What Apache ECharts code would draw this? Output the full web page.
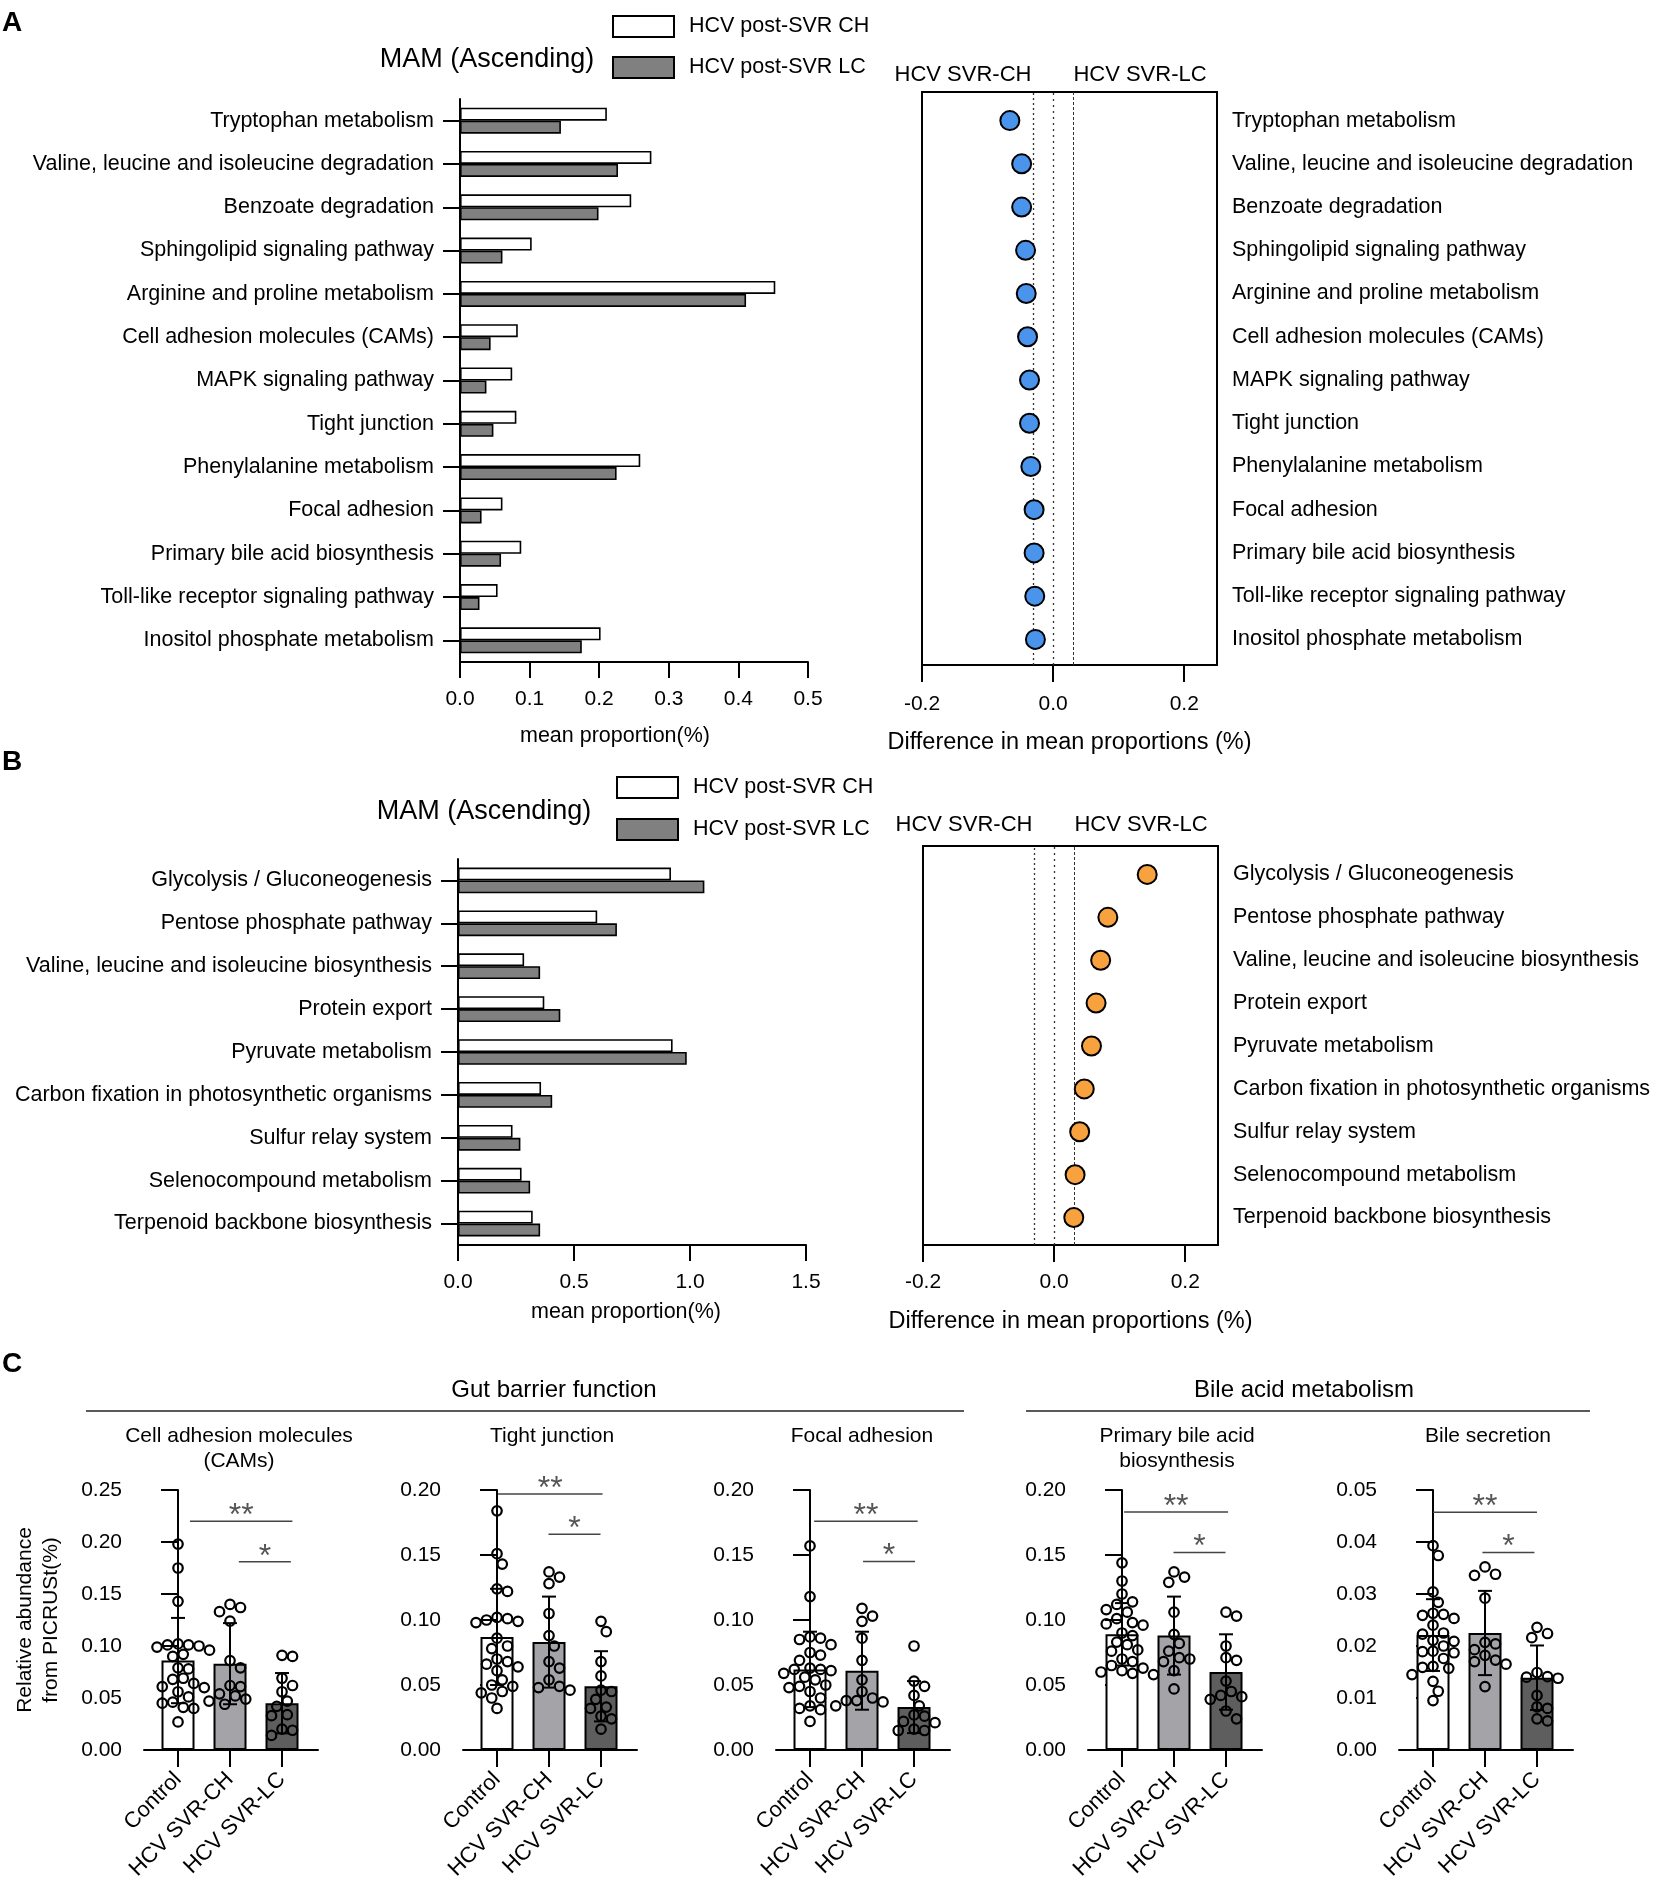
<!DOCTYPE html>
<html><head><meta charset="utf-8">
<script src="https://cdn.jsdelivr.net/npm/echarts@6/dist/echarts.min.js"></script>
<style>html,body{margin:0;padding:0;background:#fff}#c{width:1658px;height:1891px}</style>
</head><body><div id="c"></div>
<script>
const FONT = "'Liberation Sans', Arial, Helvetica, sans-serif";

// ---------- Panel A data ----------
const aPathways = ['Tryptophan metabolism','Valine, leucine and isoleucine degradation','Benzoate degradation','Sphingolipid signaling pathway','Arginine and proline metabolism','Cell adhesion molecules (CAMs)','MAPK signaling pathway','Tight junction','Phenylalanine metabolism','Focal adhesion','Primary bile acid biosynthesis','Toll-like receptor signaling pathway','Inositol phosphate metabolism'];
const aCH = [0.211,0.275,0.246,0.103,0.453,0.083,0.075,0.081,0.259,0.061,0.088,0.054,0.202];
const aLC = [0.145,0.227,0.199,0.061,0.411,0.044,0.038,0.048,0.225,0.031,0.059,0.028,0.175];
const aDiff = [-0.066,-0.048,-0.048,-0.042,-0.041,-0.039,-0.036,-0.036,-0.034,-0.029,-0.029,-0.028,-0.027];

// ---------- Panel B data ----------
const bPathways = ['Glycolysis / Gluconeogenesis','Pentose phosphate pathway','Valine, leucine and isoleucine biosynthesis','Protein export','Pyruvate metabolism','Carbon fixation in photosynthetic organisms','Sulfur relay system','Selenocompound metabolism','Terpenoid backbone biosynthesis'];
const bCH = [0.918,0.600,0.285,0.372,0.925,0.358,0.235,0.274,0.322];
const bLC = [1.062,0.685,0.354,0.441,0.986,0.406,0.269,0.311,0.354];
const bDiff = [0.142,0.082,0.071,0.064,0.057,0.046,0.039,0.032,0.030];

const legendNames = ['HCV post-SVR CH','HCV post-SVR LC'];
const dotHeaders = ['HCV SVR-CH','HCV SVR-LC'];

// ---------- Panel C data ----------
const cGroups = ['Control','HCV SVR-CH','HCV SVR-LC'];
const cTitles = ['Cell adhesion molecules\n(CAMs)','Tight junction','Focal adhesion','Primary bile acid\nbiosynthesis','Bile secretion'];
const cYMax = [0.25,0.20,0.20,0.20,0.05];
const cYInterval = [0.05,0.05,0.05,0.05,0.01];

const camsControl = [0.198,0.175,0.143,0.102,0.101,0.101,0.100,0.099,0.096,0.092,0.090,0.079,0.078,0.069,0.068,0.064,0.061,0.060,0.056,0.051,0.046,0.045,0.041,0.040,0.027];
const camsCH = [0.140,0.137,0.133,0.124,0.086,0.079,0.062,0.061,0.054,0.052,0.049,0.047,0.044];
const camsLC = [0.091,0.090,0.069,0.062,0.056,0.047,0.042,0.034,0.033,0.020,0.019,0.014];
const camsMean = [0.086,0.083,0.045];
const camsSD = [0.041,0.039,0.029];

const tightControl = [0.184,0.151,0.143,0.124,0.122,0.102,0.101,0.100,0.099,0.098,0.086,0.080,0.078,0.070,0.068,0.066,0.064,0.061,0.054,0.050,0.049,0.045,0.044,0.040,0.032];
const tightCH = [0.137,0.133,0.128,0.105,0.088,0.080,0.068,0.063,0.054,0.049,0.048,0.046];
const tightLC = [0.099,0.091,0.068,0.057,0.046,0.045,0.039,0.033,0.032,0.026,0.024,0.016];
const tightMean = [0.087,0.083,0.049];
const tightSD = [0.037,0.035,0.027];

const focalControl = [0.157,0.118,0.087,0.086,0.085,0.081,0.075,0.073,0.069,0.063,0.062,0.062,0.061,0.059,0.056,0.054,0.050,0.049,0.048,0.045,0.040,0.034,0.032,0.031,0.022];
const focalCH = [0.109,0.103,0.099,0.086,0.069,0.054,0.045,0.040,0.038,0.038,0.037,0.034];
const focalLC = [0.080,0.053,0.049,0.042,0.034,0.027,0.026,0.022,0.021,0.016,0.015,0.015];
const focalMean = [0.062,0.061,0.033];
const focalSD = [0.029,0.030,0.020];

const pbaControl = [0.144,0.130,0.120,0.114,0.112,0.108,0.106,0.101,0.098,0.097,0.096,0.090,0.088,0.083,0.081,0.077,0.076,0.070,0.068,0.065,0.063,0.061,0.060,0.059,0.058];
const pbaCH = [0.137,0.133,0.129,0.106,0.089,0.082,0.076,0.071,0.070,0.068,0.061,0.047];
const pbaLC = [0.106,0.103,0.080,0.071,0.069,0.053,0.045,0.042,0.041,0.039,0.030,0.024];
const pbaMean = [0.089,0.088,0.060];
const pbaSD = [0.024,0.030,0.029];

const bileControl = [0.0393,0.0374,0.0304,0.0284,0.0263,0.0261,0.0259,0.0253,0.0240,0.0225,0.0223,0.0211,0.0209,0.0200,0.0190,0.0189,0.0187,0.0176,0.0161,0.0159,0.0157,0.0145,0.0132,0.0113,0.0095];
const bileCH = [0.0352,0.0338,0.0336,0.0292,0.0207,0.0204,0.0193,0.0182,0.0173,0.0170,0.0165,0.0122];
const bileLC = [0.0236,0.0224,0.0216,0.0149,0.0141,0.0140,0.0138,0.0105,0.0083,0.0080,0.0060,0.0056];
const bileMean = [0.0221,0.0225,0.0139];
const bileSD = [0.0069,0.0081,0.0062];

// significance annotations: [from group, to group, height, label]
const camsSig = [[0.23,2.2,0.220,'**'],[1.17,2.17,0.181,'*']];
const tightSig = [[0.02,2.03,0.197,'**'],[0.99,1.99,0.166,'*']];
const focalSig = [[0.08,2.07,0.176,'**'],[1.02,2.02,0.145,'*']];
const pbaSig = [[0.04,2.04,0.183,'**'],[0.99,1.99,0.152,'*']];
const bileSig = [[0.0,2.0,0.0457,'**'],[0.95,1.95,0.038,'*']];

const cPoints = [[camsControl,camsCH,camsLC],[tightControl,tightCH,tightLC],[focalControl,focalCH,focalLC],[pbaControl,pbaCH,pbaLC],[bileControl,bileCH,bileLC]];
const cMeans = [camsMean,tightMean,focalMean,pbaMean,bileMean];
const cSDs = [camsSD,tightSD,focalSD,pbaSD,bileSD];
const cSigs = [camsSig,tightSig,focalSig,pbaSig,bileSig];

// ---------- layout ----------
const cLeft = [144,463,776,1088,1399];
const cTitleX = [239,552,862,1177,1488];
const cTop = 1490, cH = 260, cW = 174;
const cXMin = -0.654, cXMax = 2.692;
const cBarColors = ['#ffffff','#a4a4a8','#5e5e5e'];

const txt = (s, size) => ({fontFamily: FONT, fontSize: size, color: '#000'});

// deterministic beeswarm (pixel space) to spread points horizontally
function swarm(values, gi, yMax) {
  const pxY = cH / yMax, pxX = cW / (cXMax - cXMin), d = 10.5;
  const placed = [];
  const order = values.map((v, i) => i).sort((a, b) => values[b] - values[a]);
  const out = [];
  order.forEach(i => {
    const yp = values[i] * pxY;
    let off = 0;
    for (let k = 0; k < 60; k++) {
      const cand = k === 0 ? 0 : (k % 2 ? 1 : -1) * Math.ceil(k / 2) * d * 0.5;
      if (placed.every(p => Math.hypot(p[0] - cand, p[1] - yp) >= d)) { off = cand; break; }
    }
    placed.push([off, yp]);
    out.push([gi + off / pxX, values[i]]);
  });
  return out;
}

const grid = [], xAxis = [], yAxis = [], series = [], graphic = [];

function gtext(text, x, y, size, opts) {
  graphic.push(Object.assign({type: 'text', x: x, y: y, silent: true,
    style: Object.assign({text: text, fontFamily: FONT, fontSize: size, fill: '#000',
      align: 'center', verticalAlign: 'middle', textAlign: 'center', textVerticalAlign: 'middle'}, opts || {})}));
}

// ---------- bar + dot panel builder ----------
function buildPanel(p) {
  const gBar = grid.length;
  grid.push({left: p.barLeft, top: p.barTop, width: 348, height: p.barH});
  xAxis.push({type: 'value', gridIndex: gBar, min: 0, max: p.xMax, interval: p.xInt,
    axisLine: {show: true, lineStyle: {color: '#000', width: 2}},
    axisTick: {show: true, length: 16, lineStyle: {color: '#000', width: 2}},
    splitLine: {show: false},
    axisLabel: Object.assign(txt('', 21), {margin: 27, formatter: v => v.toFixed(1)}),
    name: 'mean proportion(%)', nameLocation: 'middle', nameGap: p.barNameGap,
    nameTextStyle: Object.assign(txt('', 21.5), {padding: [0, p.namePad, 0, 0]})});
  yAxis.push({type: 'category', gridIndex: gBar, data: p.cats, inverse: true,
    axisLine: {show: true, lineStyle: {color: '#000', width: 2}},
    axisTick: {show: true, alignWithLabel: true, length: 17, lineStyle: {color: '#000', width: 2}},
    axisLabel: Object.assign(txt('', 21.5), {margin: 26})});
  series.push({name: legendNames[0], type: 'bar', xAxisIndex: gBar, yAxisIndex: gBar, data: p.ch,
    itemStyle: {color: '#ffffff', borderColor: '#000', borderWidth: 1.6},
    barGap: '0%', barCategoryGap: '40%'});
  series.push({name: legendNames[1], type: 'bar', xAxisIndex: gBar, yAxisIndex: gBar, data: p.lc,
    itemStyle: {color: '#808080', borderColor: '#000', borderWidth: 1.6},
    barGap: '0%', barCategoryGap: '40%'});

  // dot box
  const gBox = grid.length;
  grid.push({left: p.boxLeft, top: p.boxTop, width: 295, height: p.boxH, show: true,
    borderColor: '#000', borderWidth: 2, backgroundColor: 'transparent'});
  xAxis.push({type: 'value', gridIndex: gBox, min: -0.2, max: 0.25, interval: 0.2,
    axisLine: {show: true, lineStyle: {color: '#000', width: 2}},
    axisTick: {show: true, length: 17, customValues: [-0.2, 0, 0.2], lineStyle: {color: '#000', width: 2}},
    splitLine: {show: false},
    axisLabel: Object.assign(txt('', 21), {margin: p.dotLabMargin, customValues: [-0.2, 0, 0.2], formatter: v => v.toFixed(1)}),
    name: 'Difference in mean proportions (%)', nameLocation: 'middle', nameGap: p.dotNameGap,
    nameTextStyle: txt('', 23.5)});
  yAxis.push({type: 'value', gridIndex: gBox, min: 0, max: 1, show: false});
  series.push({type: 'scatter', xAxisIndex: gBox, yAxisIndex: gBox, data: [], silent: true,
    markLine: {silent: true, symbol: 'none', label: {show: false},
      data: [
        {xAxis: -0.025, lineStyle: {type: [2, 3], color: '#333', width: 1.3}},
        {xAxis: 0, lineStyle: {type: [2, 4], color: '#333', width: 1.3}},
        {xAxis: 0.025, lineStyle: {type: [3, 2], color: '#333', width: 1}}
      ]}});

  // dots
  const gDot = grid.length;
  grid.push({left: p.boxLeft, top: p.dotTop, width: 295, height: p.dotH});
  xAxis.push({type: 'value', gridIndex: gDot, min: -0.2, max: 0.25, show: false});
  yAxis.push({type: 'category', gridIndex: gDot, data: p.cats, inverse: true, position: 'right',
    axisLine: {show: false}, axisTick: {show: false},
    axisLabel: Object.assign(txt('', 21.5), {margin: 15})});
  series.push({type: 'scatter', xAxisIndex: gDot, yAxisIndex: gDot,
    data: p.diff.map((v, i) => [v, p.cats[i]]),
    symbol: 'circle', symbolSize: 19,
    itemStyle: {color: p.dotColor, borderColor: '#000', borderWidth: 2, opacity: 1}, z: 5});

  // texts
  gtext('MAM (Ascending)', p.titleX, p.titleY, 27);
  gtext(dotHeaders[0], p.boxLeft + 41, p.headY, 22);
  gtext(dotHeaders[1], p.boxLeft + 218, p.headY, 22);
}

buildPanel({cats: aPathways, ch: aCH, lc: aLC, diff: aDiff, xMax: 0.5, xInt: 0.1,
  barLeft: 460, barTop: 99, barH: 563, barNameGap: 63, namePad: 38,
  boxLeft: 922, boxTop: 92, boxH: 573, dotTop: 99, dotH: 562, dotNameGap: 66, dotLabMargin: 29,
  dotColor: '#4a94ec', titleX: 487, titleY: 60, headY: 75});
buildPanel({cats: bPathways, ch: bCH, lc: bLC, diff: bDiff, xMax: 1.5, xInt: 0.5,
  barLeft: 458, barTop: 859, barH: 386, barNameGap: 56, namePad: 12,
  boxLeft: 923, boxTop: 846, boxH: 399, dotTop: 853, dotH: 386, dotNameGap: 65, dotLabMargin: 27,
  dotColor: '#f7a23f', titleX: 484, titleY: 812, headY: 825});

// ---------- Panel C ----------
for (let k = 0; k < 5; k++) {
  const g = grid.length;
  grid.push({left: cLeft[k], top: cTop, width: cW, height: cH});
  xAxis.push({type: 'value', gridIndex: g, min: cXMin, max: cXMax,
    axisLine: {show: true, onZero: false, lineStyle: {color: '#000', width: 2}},
    axisTick: {show: true, length: 17, customValues: [0, 1, 2], lineStyle: {color: '#000', width: 2}},
    splitLine: {show: false},
    axisLabel: Object.assign(txt('', 22), {rotate: 45, margin: 26, customValues: [0, 1, 2],
      formatter: v => cGroups[Math.round(v)]})});
  const ya = {type: 'value', gridIndex: g, min: 0, max: cYMax[k], interval: cYInterval[k],
    axisLine: {show: true, lineStyle: {color: '#000', width: 2}},
    axisTick: {show: true, length: 17, lineStyle: {color: '#000', width: 2}},
    splitLine: {show: false},
    axisLabel: Object.assign(txt('', 21), {margin: 22, formatter: v => v.toFixed(2)})};
  if (k === 0) {
    ya.name = 'Relative abundance\nfrom PICRUSt(%)';
    ya.nameLocation = 'middle';
    ya.nameRotate = 90;
    ya.nameGap = 80;
    ya.nameTextStyle = Object.assign(txt('', 21), {lineHeight: 26});
  }
  yAxis.push(ya);
  const means = cMeans[k], sds = cSDs[k];
  series.push({type: 'bar', xAxisIndex: g, yAxisIndex: g, barWidth: 33, z: 2,
    data: means.map((m, i) => ({value: [i, m], itemStyle: {color: cBarColors[i]}})),
    itemStyle: {borderColor: '#000', borderWidth: 2}});
  series.push({type: 'custom', xAxisIndex: g, yAxisIndex: g, z: 3, silent: true,
    data: means.map((m, i) => [i, m, sds[i]]),
    renderItem: (params, api) => {
      const x = api.value(0), m = api.value(1), s = api.value(2);
      const t = api.coord([x, m + s]), b = api.coord([x, m - s]);
      const w = 7, st = {stroke: '#000', lineWidth: 2};
      return {type: 'group', children: [
        {type: 'line', shape: {x1: t[0], y1: t[1], x2: b[0], y2: b[1]}, style: st},
        {type: 'line', shape: {x1: t[0] - w, y1: t[1], x2: t[0] + w, y2: t[1]}, style: st},
        {type: 'line', shape: {x1: b[0] - w, y1: b[1], x2: b[0] + w, y2: b[1]}, style: st}
      ]};
    }});
  const pts = [];
  cPoints[k].forEach((vals, gi) => swarm(vals, gi, cYMax[k]).forEach(p => pts.push(p)));
  series.push({type: 'scatter', xAxisIndex: g, yAxisIndex: g, z: 4, data: pts,
    symbol: 'circle', symbolSize: 9.5,
    itemStyle: {color: 'rgba(0,0,0,0)', borderColor: '#000', borderWidth: 2.2, opacity: 1}});
  const sig = cSigs[k];
  series.push({type: 'custom', xAxisIndex: g, yAxisIndex: g, z: 5, silent: true, clip: false,
    data: sig.map(s => [s[0], s[1], s[2]]),
    renderItem: (params, api) => {
      const a = api.coord([api.value(0), api.value(2)]), b = api.coord([api.value(1), api.value(2)]);
      const lab = sig[params.dataIndex][3];
      return {type: 'group', children: [
        {type: 'line', shape: {x1: a[0], y1: a[1], x2: b[0], y2: b[1]}, style: {stroke: '#444', lineWidth: 1.5}},
        {type: 'text', x: (a[0] + b[0]) / 2, y: a[1] - 5,
          style: {text: lab, fontFamily: FONT, fontSize: 32, fill: '#555', align: 'center', verticalAlign: 'middle'}}
      ]};
    }});
  // subplot title
  const tl = cTitles[k].split('\n');
  tl.forEach((line, j) => gtext(line, cTitleX[k], 1436 + j * 25, 21));
}

// panel letters and group headings
gtext('A', 12, 23, 28, {fontWeight: 'bold'});
gtext('B', 12, 762, 28, {fontWeight: 'bold'});
gtext('C', 12, 1364, 28, {fontWeight: 'bold'});
gtext('Gut barrier function', 554, 1390, 24);
gtext('Bile acid metabolism', 1304, 1390, 24);
graphic.push({type: 'line', silent: true, shape: {x1: 86, y1: 1411, x2: 964, y2: 1411}, style: {stroke: '#222', lineWidth: 1.5}});
graphic.push({type: 'line', silent: true, shape: {x1: 1026, y1: 1411, x2: 1590, y2: 1411}, style: {stroke: '#222', lineWidth: 1.5}});

const legendBase = {data: legendNames, orient: 'vertical', icon: 'rect', itemWidth: 61, itemHeight: 21,
  selectedMode: false, textStyle: Object.assign(txt('', 21.5), {padding: [0, 0, 0, 10]})};

const chart = echarts.init(document.getElementById('c'), null, {renderer: 'canvas'});
chart.setOption({
  backgroundColor: '#fff',
  animation: false,
  textStyle: {fontFamily: FONT},
  legend: [Object.assign({left: 607, top: 10, itemGap: 18}, legendBase),
           Object.assign({left: 611, top: 771, itemGap: 19}, legendBase)],
  grid: grid, xAxis: xAxis, yAxis: yAxis, series: series, graphic: graphic
});
</script></body></html>
